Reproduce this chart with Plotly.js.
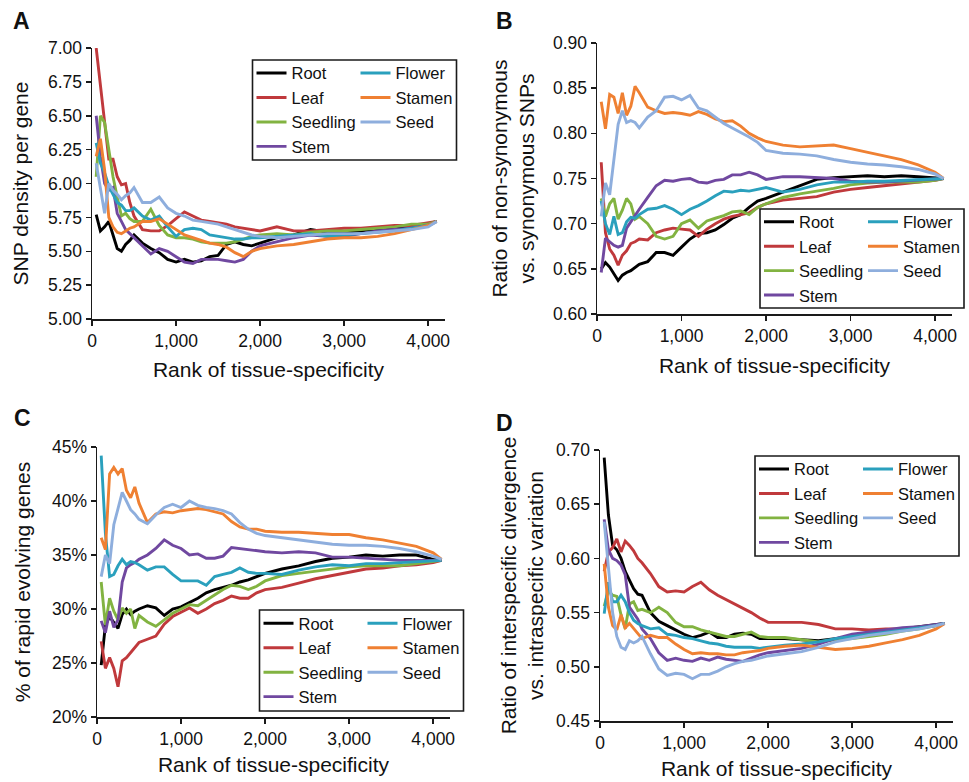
<!DOCTYPE html>
<html>
<head>
<meta charset="utf-8">
<script src="https://cdn.plot.ly/plotly-3.0.1.min.js"></script>
<style>html,body{margin:0;padding:0;background:#fff}#chart{width:969px;height:782px}</style>
</head>
<body>
<div id="chart"></div>
<script>
// ---------- data ----------
const rankX = [50,100,150,200,250,300,350,400,450,500,600,700,800,900,1000,1100,1200,1300,1400,1500,1600,1700,1800,1900,2000,2200,2400,2600,2800,3000,3200,3400,3600,3800,4000,4100];
const rankTicks = [0,1000,2000,3000,4000];
const seriesNames = ['Root','Leaf','Seedling','Stem','Flower','Stamen','Seed'];
const seriesColors = ['#000000','#c0393c','#82b341','#7048a0','#2aa0bd','#ef8032','#8eaedd'];

// Panel A: SNP density per gene
const aRoot     = [5.77,5.65,5.68,5.72,5.62,5.52,5.50,5.55,5.58,5.62,5.56,5.52,5.49,5.44,5.42,5.44,5.42,5.43,5.46,5.47,5.55,5.57,5.55,5.54,5.56,5.60,5.62,5.66,5.64,5.64,5.65,5.66,5.67,5.68,5.70,5.72];
const aLeaf     = [7.00,6.72,6.45,6.18,6.18,6.05,5.99,6.00,5.86,5.76,5.66,5.65,5.65,5.69,5.74,5.79,5.76,5.73,5.72,5.71,5.70,5.68,5.67,5.66,5.65,5.68,5.65,5.65,5.66,5.67,5.67,5.68,5.69,5.69,5.71,5.72];
const aSeedling = [6.05,6.50,6.45,6.25,6.05,5.90,5.76,5.78,5.74,5.72,5.72,5.81,5.69,5.62,5.60,5.60,5.59,5.57,5.56,5.56,5.56,5.57,5.59,5.61,5.62,5.63,5.62,5.64,5.65,5.65,5.66,5.67,5.68,5.70,5.70,5.72];
const aStem     = [6.50,6.20,6.00,5.95,5.97,5.78,5.72,5.66,5.63,5.60,5.54,5.48,5.52,5.50,5.46,5.42,5.41,5.44,5.44,5.44,5.43,5.42,5.44,5.50,5.54,5.57,5.60,5.62,5.61,5.61,5.63,5.65,5.66,5.67,5.69,5.72];
const aFlower   = [6.30,6.15,6.08,5.98,5.92,5.86,5.84,5.80,5.80,5.82,5.76,5.73,5.76,5.68,5.61,5.66,5.67,5.66,5.62,5.61,5.60,5.59,5.59,5.60,5.60,5.61,5.62,5.63,5.61,5.62,5.63,5.64,5.65,5.67,5.69,5.72];
const aStamen   = [6.20,6.33,6.10,5.75,5.68,5.64,5.63,5.65,5.67,5.68,5.72,5.72,5.74,5.70,5.66,5.62,5.60,5.58,5.56,5.55,5.53,5.49,5.46,5.50,5.52,5.54,5.55,5.57,5.59,5.60,5.60,5.61,5.63,5.66,5.69,5.72];
const aSeed     = [6.15,5.95,5.78,6.00,5.95,5.92,5.88,5.91,5.93,5.97,5.86,5.86,5.90,5.82,5.78,5.76,5.73,5.72,5.71,5.70,5.68,5.66,5.64,5.62,5.61,5.60,5.61,5.62,5.63,5.63,5.63,5.64,5.65,5.66,5.68,5.72];

// Panel B: ratio of non-synonymous vs. synonymous SNPs
const bRoot     = [0.650,0.657,0.652,0.645,0.637,0.643,0.646,0.648,0.652,0.655,0.658,0.668,0.668,0.665,0.674,0.683,0.689,0.690,0.693,0.699,0.706,0.710,0.718,0.725,0.728,0.735,0.742,0.749,0.751,0.752,0.753,0.752,0.753,0.752,0.751,0.750];
const bLeaf     = [0.768,0.690,0.672,0.665,0.654,0.665,0.670,0.678,0.680,0.683,0.682,0.690,0.693,0.695,0.694,0.693,0.686,0.694,0.700,0.705,0.708,0.710,0.712,0.718,0.722,0.726,0.728,0.730,0.735,0.738,0.740,0.742,0.744,0.746,0.748,0.750];
const bSeedling = [0.728,0.708,0.722,0.728,0.705,0.715,0.728,0.722,0.705,0.708,0.700,0.686,0.683,0.686,0.700,0.704,0.695,0.703,0.706,0.709,0.713,0.714,0.710,0.718,0.722,0.729,0.733,0.736,0.739,0.743,0.745,0.746,0.746,0.746,0.748,0.750];
const bStem     = [0.646,0.684,0.680,0.676,0.674,0.676,0.695,0.702,0.710,0.716,0.729,0.742,0.748,0.747,0.749,0.750,0.746,0.745,0.748,0.749,0.754,0.754,0.757,0.754,0.749,0.752,0.752,0.751,0.750,0.747,0.746,0.746,0.747,0.748,0.749,0.750];
const bFlower   = [0.725,0.700,0.688,0.708,0.688,0.690,0.702,0.707,0.706,0.710,0.716,0.717,0.720,0.716,0.710,0.716,0.720,0.725,0.731,0.736,0.735,0.737,0.736,0.738,0.740,0.735,0.738,0.743,0.746,0.746,0.747,0.747,0.748,0.749,0.750,0.750];
const bStamen   = [0.835,0.805,0.843,0.840,0.822,0.845,0.820,0.830,0.852,0.845,0.829,0.825,0.822,0.823,0.822,0.820,0.824,0.821,0.816,0.813,0.814,0.808,0.800,0.795,0.791,0.787,0.785,0.786,0.787,0.783,0.779,0.775,0.771,0.765,0.757,0.750];
const bSeed     = [0.708,0.745,0.732,0.770,0.810,0.825,0.812,0.814,0.812,0.806,0.818,0.825,0.840,0.841,0.837,0.842,0.828,0.825,0.818,0.811,0.806,0.801,0.796,0.790,0.781,0.778,0.777,0.775,0.771,0.768,0.766,0.765,0.763,0.760,0.755,0.750];

// Panel C: % of rapid evolving genes
const cRoot     = [24.8,28.5,29.3,28.8,28.2,29.5,30.0,29.5,29.8,30.0,30.3,30.1,29.4,30.0,30.2,30.6,31.0,31.5,31.8,32.0,32.2,32.5,32.7,33.0,33.3,33.7,34.0,34.4,34.7,34.8,35.0,34.9,35.0,35.0,34.6,34.5];
const cLeaf     = [27.0,24.5,25.5,24.5,22.8,25.2,25.5,26.0,26.5,26.9,27.2,27.5,28.6,29.3,29.7,30.1,29.6,30.0,30.5,30.8,31.2,31.0,31.0,31.5,31.8,32.0,32.4,32.8,33.1,33.4,33.7,33.8,34.0,34.1,34.3,34.5];
const cSeedling = [32.5,28.5,31.0,29.8,29.0,30.1,29.6,30.0,28.2,29.4,28.8,28.4,29.0,29.6,30.0,30.4,30.3,30.8,31.3,31.8,32.2,32.1,31.8,32.1,32.6,33.1,33.3,33.5,33.7,33.9,34.0,34.0,34.0,34.2,34.4,34.5];
const cStem     = [28.9,27.8,29.8,28.3,29.0,32.5,33.8,34.1,34.3,34.6,35.0,35.6,36.4,35.9,35.6,35.0,35.1,34.7,34.7,34.9,35.7,35.6,35.5,35.4,35.3,35.2,35.3,35.2,34.8,34.8,34.7,34.6,34.5,34.5,34.5,34.5];
const cFlower   = [44.2,37.0,33.0,33.2,34.0,34.6,34.1,34.4,34.3,34.1,33.6,33.9,33.9,33.2,32.6,32.6,32.6,32.2,33.0,33.2,33.4,33.8,33.4,33.3,33.3,33.2,33.6,33.9,34.1,34.0,34.2,34.2,34.3,34.4,34.5,34.5];
const cStamen   = [36.6,35.5,42.5,43.1,42.5,43.0,41.0,40.3,41.3,39.8,38.0,38.8,39.0,38.9,39.1,39.2,39.3,39.2,39.0,38.8,38.1,37.6,37.4,37.4,37.2,37.1,37.1,37.0,36.9,36.9,36.6,36.4,36.1,35.8,35.2,34.6];
const cSeed     = [33.0,35.0,34.2,37.8,39.3,40.8,40.0,39.2,38.8,38.3,37.9,38.7,39.4,39.7,39.4,40.0,39.6,39.4,39.3,39.1,38.8,38.0,37.4,37.0,36.8,36.6,36.4,36.2,36.0,35.9,35.9,35.8,35.6,35.3,34.9,34.6];

// Panel D: ratio of interspecific divergence vs. intraspecific variation
const dRoot     = [0.693,0.640,0.612,0.608,0.600,0.588,0.580,0.572,0.567,0.566,0.550,0.542,0.538,0.534,0.530,0.527,0.529,0.532,0.527,0.527,0.530,0.531,0.530,0.526,0.526,0.526,0.525,0.524,0.526,0.528,0.531,0.533,0.535,0.537,0.539,0.540];
const dLeaf     = [0.588,0.606,0.610,0.618,0.606,0.616,0.612,0.607,0.600,0.596,0.586,0.574,0.569,0.570,0.569,0.574,0.578,0.571,0.566,0.562,0.558,0.554,0.550,0.545,0.541,0.541,0.541,0.539,0.535,0.535,0.534,0.535,0.535,0.536,0.538,0.540];
const dSeedling = [0.556,0.570,0.566,0.565,0.548,0.535,0.558,0.560,0.552,0.553,0.550,0.555,0.550,0.541,0.537,0.537,0.534,0.532,0.530,0.528,0.528,0.530,0.532,0.528,0.527,0.527,0.525,0.523,0.525,0.526,0.528,0.530,0.533,0.535,0.538,0.540];
const dStem     = [0.636,0.608,0.600,0.598,0.594,0.585,0.555,0.549,0.544,0.535,0.526,0.513,0.506,0.508,0.506,0.505,0.508,0.506,0.509,0.507,0.506,0.505,0.508,0.511,0.513,0.515,0.517,0.521,0.526,0.530,0.532,0.534,0.536,0.537,0.539,0.540];
const dFlower   = [0.549,0.578,0.560,0.560,0.566,0.560,0.550,0.543,0.540,0.538,0.535,0.536,0.530,0.529,0.527,0.526,0.524,0.522,0.521,0.519,0.518,0.518,0.518,0.517,0.518,0.520,0.521,0.523,0.526,0.528,0.530,0.532,0.534,0.536,0.538,0.540];
const dStamen   = [0.595,0.555,0.538,0.534,0.548,0.536,0.540,0.535,0.530,0.526,0.529,0.527,0.527,0.521,0.516,0.512,0.513,0.512,0.512,0.511,0.511,0.513,0.514,0.515,0.517,0.519,0.520,0.518,0.516,0.517,0.519,0.522,0.525,0.529,0.535,0.540];
const dSeed     = [0.634,0.590,0.550,0.528,0.518,0.516,0.524,0.522,0.524,0.528,0.512,0.498,0.492,0.494,0.493,0.489,0.493,0.493,0.496,0.500,0.503,0.505,0.506,0.508,0.510,0.512,0.514,0.518,0.523,0.526,0.529,0.531,0.533,0.535,0.538,0.540];

const panelLetters = ['A','B','C','D'];
const yTitles = ['SNP density per gene','Ratio of non-synonymous<br>vs. synonymous SNPs','% of rapid evolving genes','Ratio of interspecific divergence<br>vs. intraspecific variation'];
const xTitle = 'Rank of tissue-specificity';

// ---------- layout geometry (pixels) ----------
const W = 969, H = 782;
const F = 'Liberation Sans, Arial, sans-serif';
const panels = [
  {series:[aRoot,aLeaf,aSeedling,aStem,aFlower,aStamen,aSeed], xd:[92,445], yd:[48,319], yr:[5,7], dt:0.25, fmt:'.2f', suf:'', xs:13, ys:13,
   letter:[21,21], leg:{xl:251.5, xr:355.5, top:55.8, box:[252.5,456.5,60,160]}},
  {series:[bRoot,bLeaf,bSeedling,bStem,bFlower,bStamen,bSeed], xd:[597,952], yd:[43,314], yr:[0.6,0.9], dt:0.05, fmt:'.2f', suf:'', xs:14, ys:12,
   letter:[505,21], leg:{xl:759, xr:863, top:204.5, box:[760,964,209,308]}},
  {series:[cRoot,cLeaf,cSeedling,cStem,cFlower,cStamen,cSeed], xd:[97,450], yd:[447,717], yr:[20,45], dt:5, fmt:'d', suf:'%', xs:10, ys:15,
   letter:[22,418], leg:{xl:258.5, xr:362.5, top:606.1, box:[259.5,463.5,610,711]}},
  {series:[dRoot,dLeaf,dSeedling,dStem,dFlower,dStamen,dSeed], xd:[600,953], yd:[450,721], yr:[0.45,0.70], dt:0.05, fmt:'.2f', suf:'', xs:10, ys:6,
   letter:[504,423], leg:{xl:754, xr:858, top:451.8, box:[755,959,456,556]}}
];

const traces = [];
const layout = {
  width: W, height: H,
  margin: {l:0, r:0, t:0, b:0},
  paper_bgcolor: '#ffffff', plot_bgcolor: 'rgba(0,0,0,0)',
  font: {family: F, color: '#111111'},
  showlegend: true,
  shapes: [], annotations: []
};

const axBase = {
  showgrid:false, zeroline:false, showline:true, linecolor:'#1a1a1a', linewidth:1.5,
  ticks:'outside', ticklen:5, tickwidth:1.5, tickcolor:'#1a1a1a',
  tickfont:{family:F, size:17.5, color:'#111111'}, automargin:false, fixedrange:true
};

panels.forEach((p, i) => {
  const n = i === 0 ? '' : String(i + 1);
  const legL = i === 0 ? 'legend' : 'legend' + (2 * i + 1);
  const legR = 'legend' + (2 * i + 2);
  p.series.forEach((vals, k) => {
    traces.push({
      type:'scatter', mode:'lines', x: rankX, y: vals, name: seriesNames[k],
      xaxis:'x' + n, yaxis:'y' + n,
      line:{color: seriesColors[k], width: 2.9},
      legend: k < 4 ? legL : legR,
      hoverinfo:'skip'
    });
  });
  layout['xaxis' + n] = Object.assign({}, axBase, {
    domain:[p.xd[0] / W, p.xd[1] / W], anchor:'y' + n,
    range:[0, 4200], tickmode:'array', tickvals: rankTicks, tickformat:',d',
    title:{text: xTitle, font:{family:F, size:21, color:'#111111'}, standoff: p.xs}
  });
  layout['yaxis' + n] = Object.assign({}, axBase, {
    domain:[1 - p.yd[1] / H, 1 - p.yd[0] / H], anchor:'x' + n,
    range: p.yr, tick0: p.yr[0], dtick: p.dt, tickformat: p.fmt, ticksuffix: p.suf,
    title:{text: yTitles[i], font:{family:F, size:21, color:'#111111'}, standoff: p.ys}
  });
  const legBase = {
    bgcolor:'rgba(0,0,0,0)', borderwidth:0, orientation:'v', xanchor:'left', yanchor:'top',
    font:{family:F, size:16.5, color:'#111111'}, itemwidth:30, traceorder:'normal'
  };
  layout[legL] = Object.assign({}, legBase, {x: p.leg.xl / W, y: 1 - p.leg.top / H});
  layout[legR] = Object.assign({}, legBase, {x: p.leg.xr / W, y: 1 - p.leg.top / H});
  layout.shapes.push({
    type:'rect', xref:'paper', yref:'paper',
    x0: p.leg.box[0] / W, x1: p.leg.box[1] / W, y0: 1 - p.leg.box[3] / H, y1: 1 - p.leg.box[2] / H,
    line:{color:'#1a1a1a', width:1.6}, fillcolor:'rgba(0,0,0,0)'
  });
  layout.annotations.push({
    text:'<b>' + panelLetters[i] + '</b>', xref:'paper', yref:'paper',
    x: p.letter[0] / W, y: 1 - p.letter[1] / H, xanchor:'center', yanchor:'middle',
    showarrow:false, font:{family:F, size:23, color:'#111111'}
  });
});

Plotly.newPlot('chart', traces, layout, {staticPlot:true, displayModeBar:false});
</script>
</body>
</html>
